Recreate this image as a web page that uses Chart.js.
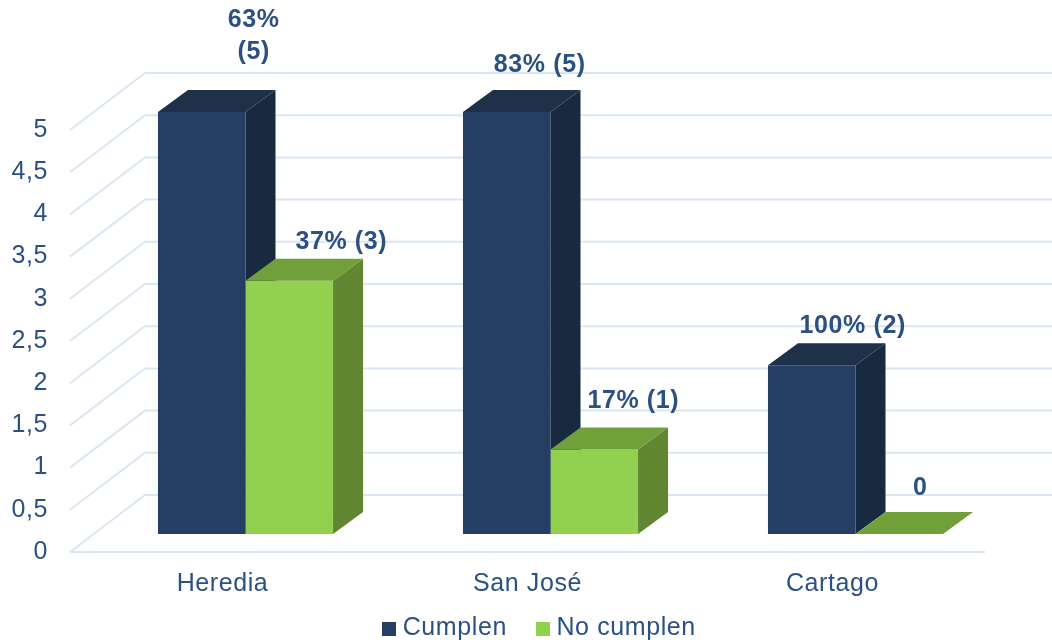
<!DOCTYPE html>
<html>
<head>
<meta charset="utf-8">
<title>Cumplen / No cumplen</title>
<script src="https://cdn.jsdelivr.net/npm/chart.js@4/dist/chart.umd.min.js"></script>
<style>
  html, body { margin: 0; padding: 0; background: #fff; }
  canvas { display: block; }
</style>
</head>
<body>
<canvas id="provinciasChart" width="1052" height="640"></canvas>
<script>
// --- Data ---
const categories = ["Heredia", "San José", "Cartago"];
const cumplen = [5, 5, 2];
const noCumplen = [3, 1, 0];
const cumplenLabels = [["63%", "(5)"], "83% (5)", "100% (2)"];
const noCumplenLabels = ["37% (3)", "17% (1)", "0"];

// label offsets from the top centre of each bar, the picture places them by hand
const labelShift = [
  [[52, -92], [33, -47], [41, -39]],
  [[52, -39], [39, -48], [21, -46]]
];

const NAVY = "#243f63";
const GREEN = "#92d050";
const TEXT_COLOR = "#2b5183";
const GRID_COLOR = "#dbe6f3";
const FONT = "'Liberation Sans', Arial, sans-serif";
const FONT_SIZE = 25;

// bar depth
const BAR_DX = 30, BAR_DY = 22;
// how far the front of the floor sits from the plane of the bars
const FRONT_DX = 23, FRONT_DY = 18;
// depth of the side walls
const WALL_DX = 75, WALL_DY = 57;

const faceColors = [
  { top: "#1e3149", side: "#172a40" },
  { top: "#71a03b", side: "#618733" }
];

function face(ctx, color, pts) {
  ctx.fillStyle = color;
  ctx.beginPath();
  pts.forEach((p, i) => (i ? ctx.lineTo(p[0], p[1]) : ctx.moveTo(p[0], p[1])));
  ctx.closePath();
  ctx.fill();
}

function drawFaces(chart, index) {
  const { ctx } = chart;
  const colors = faceColors[index];
  chart.getDatasetMeta(index).data.forEach(bar => {
    const p = bar.getProps(["x", "y", "base", "width"], true);
    const l = p.x - p.width / 2, r = p.x + p.width / 2;
    face(ctx, colors.side, [[r, p.y], [r + BAR_DX, p.y - BAR_DY], [r + BAR_DX, p.base - BAR_DY], [r, p.base]]);
    face(ctx, colors.top, [[l, p.y], [l + BAR_DX, p.y - BAR_DY], [r + BAR_DX, p.y - BAR_DY], [r, p.y]]);
  });
}

// square used as legend marker, so the text can sit closer to it than the default gap
function legendSquare(color) {
  const c = document.createElement("canvas");
  c.width = 14;
  c.height = 14;
  const g = c.getContext("2d");
  g.fillStyle = color;
  g.fillRect(0, 0, 14, 14);
  return c;
}
const legendSquares = [legendSquare(NAVY), legendSquare(GREEN)];

// the text in the picture runs a bit wider than plain Liberation Sans
// (has to be set from a hook, resizing the canvas resets the context)
const letterSpacingPlugin = {
  id: "letterSpacing",
  beforeUpdate(chart) { chart.ctx.letterSpacing = "0.6px"; },
  beforeDraw(chart) { chart.ctx.letterSpacing = "0.6px"; }
};

// --- Walls and floor lines, drawn from the y scale ---
const wallsPlugin = {
  id: "walls",
  beforeDatasetsDraw(chart) {
    const { ctx, chartArea, scales } = chart;
    const frontLeft = chartArea.left - FRONT_DX;
    const frontRight = chartArea.right - FRONT_DX;
    ctx.save();
    ctx.strokeStyle = GRID_COLOR;
    ctx.lineWidth = 2;
    scales.y.ticks.forEach(t => {
      const y = scales.y.getPixelForValue(t.value) + FRONT_DY;
      ctx.beginPath();
      ctx.moveTo(frontLeft, y);
      ctx.lineTo(frontLeft + WALL_DX, y - WALL_DY);
      ctx.lineTo(frontRight + WALL_DX, y - WALL_DY);
      ctx.stroke();
      if (t.value === 0) {
        ctx.beginPath();
        ctx.moveTo(frontLeft, y);
        ctx.lineTo(frontRight, y);
        ctx.stroke();
      }
    });
    ctx.restore();
  }
};

// --- Top and side faces, taken from each bar element ---
// Chart.js paints the last dataset first, so the navy faces go down before
// the green fronts and the green faces go on after everything
const depthPlugin = {
  id: "depth",
  beforeDatasetsDraw(chart) { drawFaces(chart, 0); },
  afterDatasetsDraw(chart) { drawFaces(chart, 1); }
};

// --- Value labels ---
const valueLabelPlugin = {
  id: "valueLabels",
  afterDatasetsDraw(chart) {
    const { ctx } = chart;
    ctx.save();
    ctx.fillStyle = TEXT_COLOR;
    ctx.font = "bold " + FONT_SIZE + "px " + FONT;
    ctx.textAlign = "center";
    ctx.textBaseline = "middle";
    [cumplenLabels, noCumplenLabels].forEach((labels, d) => {
      chart.getDatasetMeta(d).data.forEach((bar, i) => {
        const lines = [].concat(labels[i]);
        lines.forEach((line, n) => {
          ctx.fillText(line, bar.x + labelShift[d][i][0], bar.y + labelShift[d][i][1] + n * 32);
        });
      });
    });
    ctx.restore();
  }
};

// --- Legend sits off centre in the picture ---
const legendShiftPlugin = {
  id: "legendShift",
  afterLayout(chart) {
    const lg = chart.legend;
    lg.left += 38;
    lg.right += 38;
    lg.top = 628.5 - 12.5 - lg.options.labels.padding;
  }
};

const ctx = document.getElementById("provinciasChart").getContext("2d");

new Chart(ctx, {
  type: "bar",
  data: {
    labels: categories,
    datasets: [
      { label: "Cumplen", data: cumplen, backgroundColor: NAVY, categoryPercentage: 0.574, barPercentage: 1 },
      { label: "No cumplen", data: noCumplen, backgroundColor: GREEN, categoryPercentage: 0.574, barPercentage: 1 }
    ]
  },
  options: {
    responsive: false,
    animation: false,
    layout: { padding: { top: 112, right: 44, left: 0, bottom: 0 } },
    plugins: {
      tooltip: { enabled: false },
      legend: {
        position: "bottom",
        maxHeight: 26,
        labels: {
          usePointStyle: true,
          pointStyleWidth: 2,
          padding: 35,
          color: TEXT_COLOR,
          font: { family: FONT, size: FONT_SIZE },
          generateLabels(chart) {
            const items = Chart.defaults.plugins.legend.labels.generateLabels(chart);
            items.forEach((item, i) => { item.pointStyle = legendSquares[i]; });
            return items;
          }
        }
      }
    },
    scales: {
      x: {
        grid: { display: false },
        border: { display: false },
        afterFit(scale) { scale.height = 80; },
        ticks: {
          color: TEXT_COLOR,
          font: { family: FONT, size: FONT_SIZE },
          padding: 27,
          labelOffset: -FRONT_DX,
          maxRotation: 0
        }
      },
      y: {
        min: 0,
        max: 5,
        grid: { display: false },
        border: { display: false },
        afterFit(scale) { scale.width = 93; },
        ticks: {
          stepSize: 0.5,
          autoSkip: false,
          color: TEXT_COLOR,
          font: { family: FONT, size: FONT_SIZE },
          padding: 37,
          labelOffset: FRONT_DY,
          callback: value => String(value).replace(".", ",")
        }
      }
    }
  },
  plugins: [letterSpacingPlugin, wallsPlugin, depthPlugin, valueLabelPlugin, legendShiftPlugin]
});
</script>
</body>
</html>
